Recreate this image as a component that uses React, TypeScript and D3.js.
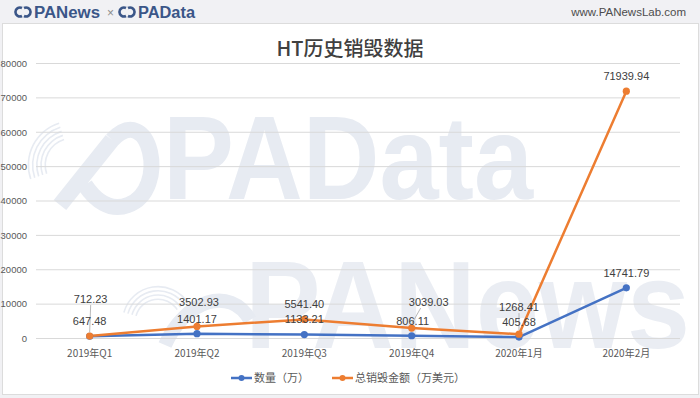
import React from 'react';
import * as d3 from 'd3';

const categories = ['2019年Q1', '2019年Q2', '2019年Q3', '2019年Q4', '2020年1月', '2020年2月'];
const quantity = [647.48, 1401.17, 1133.21, 806.11, 405.68, 14741.79];
const burnValue = [712.23, 3502.93, 5541.4, 3039.03, 1268.41, 71939.94];
const yTicks = [0, 10000, 20000, 30000, 40000, 50000, 60000, 70000, 80000];
const seriesNames = ['数量（万）', '总销毁金额（万美元）'];

// label nudges (Excel moved a few labels to dodge each other)
const quantityLabelShift = [0, 0, 0, 1, 0, 0];
const valueLabelLift = [37, 24, 15, 26, 27, 15];
const valueLabelShiftX = [1, 2, 0, 17, 0, 0];
const valueLeader = [true, false, false, true, true, false];

const W = 700;
const H = 398;
const margin = { top: 63.5, right: 20, bottom: 59.5, left: 36 };

const BLUE = '#4472c4';
const ORANGE = '#ed7d31';
const TEXT = '#595959';
const WM = '#e7ebf2';
const NUM_FONT = '"Liberation Sans", Arial, "Noto Sans CJK SC", sans-serif';
const CJK_FONT = '"Noto Sans CJK SC", "Liberation Sans", sans-serif';

function Rings({ cx, cy, r0, n, a0, a1 }: { cx: number; cy: number; r0: number; n: number; a0: number; a1: number }) {
	const arc = d3.arc<number>()
		.innerRadius((d) => d)
		.outerRadius((d) => d + 1.6)
		.startAngle(a0)
		.endAngle(a1);
	const radii = d3.range(n).map((i) => r0 + i * 4.2);
	return (
		<g transform={`translate(${cx},${cy})`}>
			{radii.map((r) => (
				<path key={r} d={arc(r) ?? ''} fill={WM} />
			))}
		</g>
	);
}

const App: React.FC = () => {
	const x = d3
		.scalePoint<string>()
		.domain(categories)
		.range([margin.left, W - margin.right])
		.padding(0.5);
	const y = d3.scaleLinear().domain([0, 80000]).range([H - margin.bottom, margin.top]);

	const line = d3
		.line<number>()
		.x((_, i) => x(categories[i]) ?? 0)
		.y((d) => y(d));

	const fmt = d3.format('.2f');

	return (
		<svg width={W} height={H} style={{ position: 'absolute', left: 0, top: 0, background: '#f1f1f4' }}>
			{/* header */}
			<rect x={0} y={0} width={W} height={23} fill="#f1f1f4" />
			<g fontFamily={NUM_FONT} fontWeight="bold" fontSize={16} fill="#3b5688">
				<path d="M22,8 a4.5,4.5 0 1 0 0,8 M24,8 a4.5,4.5 0 1 1 0,8" stroke="#3b5688" strokeWidth={2.6} fill="none" />
				<text x={34} y={17.5} textLength={66} lengthAdjust="spacingAndGlyphs">PANews</text>
				<text x={107} y={16.5} fontWeight="normal" fontSize={12} fill="#8c8c8c">×</text>
				<path d="M126,8 a4.5,4.5 0 1 0 0,8 M128,8 a4.5,4.5 0 1 1 0,8" stroke="#3b5688" strokeWidth={2.6} fill="none" />
				<text x={138} y={17.5} textLength={57} lengthAdjust="spacingAndGlyphs">PAData</text>
			</g>
			<text x={686} y={16} textAnchor="end" fontFamily={NUM_FONT} fontSize={11.5} fill="#4d4d4d">
				www.PANewsLab.com
			</text>

			{/* chart frame */}
			<rect x={2.5} y={23.5} width={696} height={371} fill="#ffffff" stroke="#dcdcdc" strokeWidth={1} />

			{/* watermark */}
			<g>
				<Rings cx={72} cy={165} r0={26} n={5} a0={-1.9} a1={-0.3} />
				<path d="M60,205 L112,140 M112,140 C150,100 170,190 128,205 C110,212 95,200 85,185" stroke={WM} strokeWidth={16} fill="none" />
				<text x={163} y={199} fontFamily={NUM_FONT} fontWeight="bold" fontSize={118} fill={WM} textLength={370} lengthAdjust="spacingAndGlyphs">
					PAData
				</text>
				<Rings cx={158} cy={322} r0={22} n={4} a0={-1.3} a1={1.0} />
				<path d="M165,345 C185,300 230,285 250,320" stroke={WM} strokeWidth={14} fill="none" />
				<text x={245} y={348} fontFamily={NUM_FONT} fontWeight="bold" fontSize={124} fill={WM} textLength={445} lengthAdjust="spacingAndGlyphs" opacity={0.85}>
					PANews
				</text>
			</g>

			{/* title */}
			<text x={350} y={56} textAnchor="middle" fontFamily={CJK_FONT} fontSize={20} fontWeight={500} fill="#404040">
				HT历史销毁数据
			</text>

			{/* grid + y axis */}
			{yTicks.map((t) => (
				<g key={t}>
					<line x1={margin.left} x2={W - margin.right} y1={y(t)} y2={y(t)} stroke="#d9d9d9" strokeWidth={1} />
					<text x={27} y={y(t)} dy="0.35em" textAnchor="end" fontFamily={NUM_FONT} fontSize={9.5} fill={TEXT}>
						{t}
					</text>
				</g>
			))}

			{/* x labels */}
			{categories.map((c) => (
				<text key={c} x={x(c)} y={357} textAnchor="middle" fontFamily={CJK_FONT} fontSize={10} fill={TEXT}>
					{c}
				</text>
			))}

			{/* series */}
			<path d={line(quantity) ?? ''} fill="none" stroke={BLUE} strokeWidth={2.5} strokeLinejoin="round" />
			<path d={line(burnValue) ?? ''} fill="none" stroke={ORANGE} strokeWidth={2.5} strokeLinejoin="round" />
			{quantity.map((v, i) => (
				<circle key={'q' + i} cx={x(categories[i])} cy={y(v)} r={3.6} fill={BLUE} />
			))}
			{burnValue.map((v, i) => (
				<circle key={'b' + i} cx={x(categories[i])} cy={y(v)} r={3.6} fill={ORANGE} />
			))}

			{/* leaders */}
			{burnValue.map((v, i) => {
				if (!valueLeader[i]) return null;
				const px = x(categories[i]) ?? 0;
				const lx = px + valueLabelShiftX[i] - (valueLabelShiftX[i] > 5 ? 8 : 0);
				const ly = y(v) - valueLabelLift[i] + 6;
				return <line key={'l' + i} x1={lx} y1={ly} x2={px} y2={y(v) - 4} stroke="#a6a6a6" strokeWidth={0.8} />;
			})}

			{/* data labels */}
			<g fontFamily={NUM_FONT} fontSize={11} fill="#404040" textAnchor="middle">
				{quantity.map((v, i) => (
					<text key={'ql' + i} x={(x(categories[i]) ?? 0) + quantityLabelShift[i]} y={y(v) - 15} dy="0.35em">
						{fmt(v)}
					</text>
				))}
				{burnValue.map((v, i) => (
					<text key={'bl' + i} x={(x(categories[i]) ?? 0) + valueLabelShiftX[i]} y={y(v) - valueLabelLift[i]} dy="0.35em">
						{fmt(v)}
					</text>
				))}
			</g>

			{/* legend */}
			<g fontFamily={CJK_FONT} fontSize={11} fill={TEXT}>
				<line x1={231} x2={252} y1={378} y2={378} stroke={BLUE} strokeWidth={2.5} />
				<circle cx={241.5} cy={378} r={3} fill={BLUE} />
				<text x={254} y={378} dy="0.35em">{seriesNames[0]}</text>
				<line x1={332} x2={353} y1={378} y2={378} stroke={ORANGE} strokeWidth={2.5} />
				<circle cx={342.5} cy={378} r={3} fill={ORANGE} />
				<text x={355} y={378} dy="0.35em">{seriesNames[1]}</text>
			</g>
		</svg>
	);
};

export default App;
